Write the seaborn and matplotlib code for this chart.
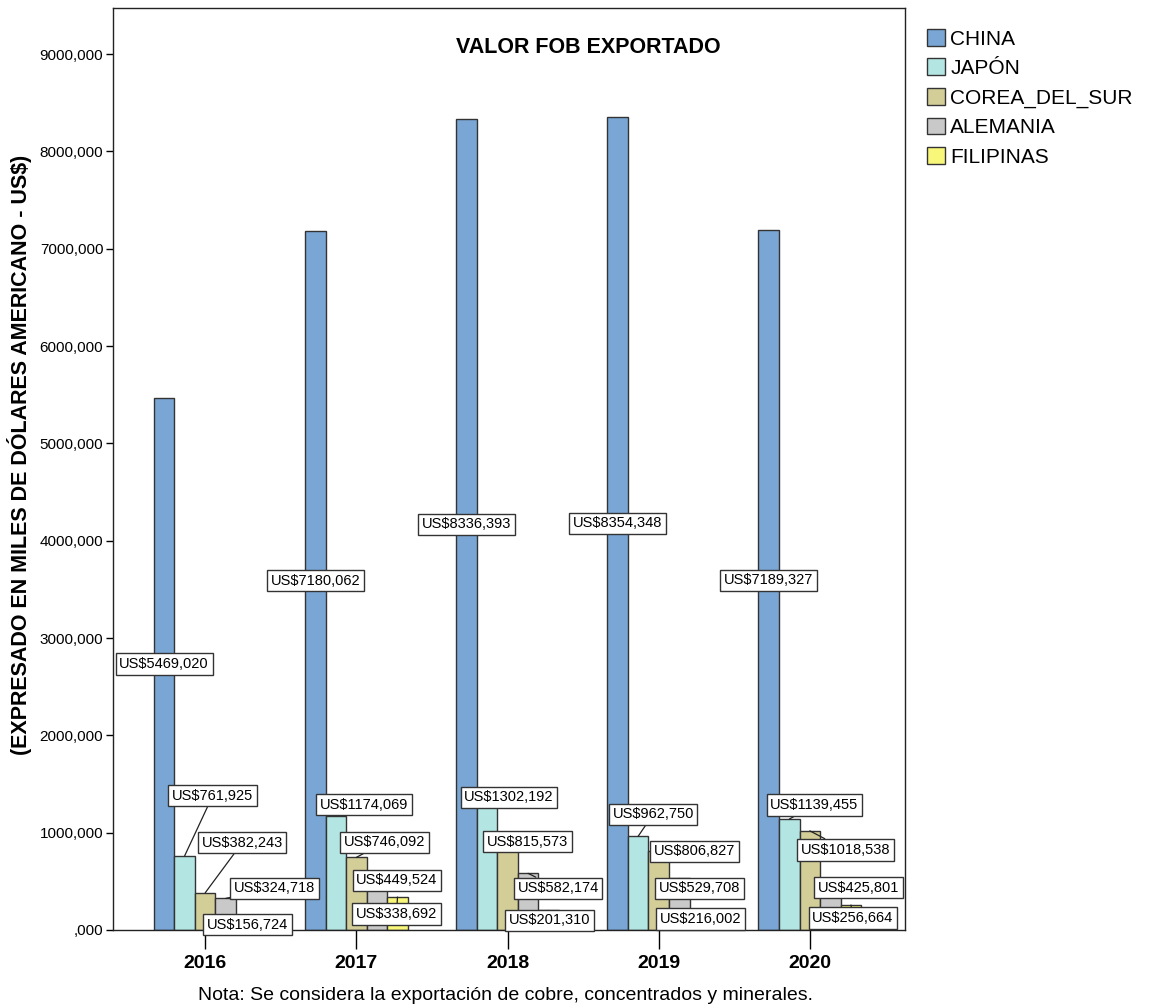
import pandas as pd
import matplotlib.pyplot as plt
import seaborn as sns
from matplotlib.patches import Patch

# data (miles de US$)
years = ['2016', '2017', '2018', '2019', '2020']
countries = ['CHINA', 'JAPÓN', 'COREA_DEL_SUR', 'ALEMANIA', 'FILIPINAS']
china = [5469.020, 7180.062, 8336.393, 8354.348, 7189.327]
japon = [761.925, 1174.069, 1302.192, 962.750, 1139.455]
corea = [382.243, 746.092, 815.573, 806.827, 1018.538]
alemania = [324.718, 449.524, 582.174, 529.708, 425.801]
filipinas = [156.724, 338.692, 201.310, 216.002, 256.664]

colors = ['#7AA6D6', '#B3E5E3', '#D3CD98', '#C9C9C9', '#F8F77A']

# label offsets in pixels from the bar top (dx, dy), one row per country (CHINA is centred)
label_offsets = [
    [(0, 0), (0, 0), (0, 0), (0, 0), (0, 0)],
    [(28, 60), (28, 11), (22, 6), (15, 22), (25, 14)],
    [(37, 50), (28, 15), (20, 9), (36, 0), (36, -19)],
    [(49, 10), (20, 6), (30, -15), (20, -10), (28, 1)],
    [(1, -10), (-1, -17), (1, -10), (1, -10), (2, -13)],
]

series = [china, japon, corea, alemania, filipinas]
df = pd.DataFrame({
    'year': years * len(countries),
    'pais': [c for c in countries for _ in years],
    'valor': [v for s in series for v in s],
})

sns.set_style('white')
plt.rcParams['font.family'] = ['Liberation Sans', 'DejaVu Sans']
plt.rcParams['text.color'] = 'black'
plt.rcParams['xtick.color'] = 'black'
plt.rcParams['ytick.color'] = 'black'

fig, ax = plt.subplots(figsize=(11.53, 10.08), dpi=100)
fig.subplots_adjust(left=0.098, right=0.785, top=0.992, bottom=0.0774)

sns.barplot(data=df, x='year', y='valor', hue='pais', hue_order=countries,
            palette=colors, width=0.68, edgecolor='#333333', linewidth=1,
            errorbar=None, legend=False, saturation=1, ax=ax, zorder=2)

ax.set_xlim(-0.61, 4.63)
ax.set_ylim(0, 9473)
ax.set_yticks(range(0, 9001, 1000))
ax.set_yticklabels([f'{v:.3f}'.replace('.', ',') if v else ',000'
                    for v in range(0, 9001, 1000)], fontsize=11)
ax.set_xticks(range(len(years)))
ax.set_xticklabels(years, fontsize=14, fontweight='bold')
ax.tick_params(axis='y', direction='out', length=5, width=1, left=True, pad=2)
ax.tick_params(axis='x', direction='out', length=14, width=1, bottom=True, pad=4)
ax.set_xlabel('')
ax.set_ylabel('')
for sp in ax.spines.values():
    sp.set_color('#222222')
    sp.set_linewidth(1)

# value labels
for ci, cont in enumerate(ax.containers):
    for yi, bar in enumerate(cont):
        val = series[ci][yi]
        xc = bar.get_x() + bar.get_width() / 2
        txt = f'US${val:.3f}'.replace('.', ',')
        box = dict(boxstyle='square,pad=0.25', fc='white', ec='#333333', lw=1)
        if ci == 0:
            ax.text(xc, val / 2, txt, ha='center', va='center', fontsize=10.5,
                    bbox=box, zorder=5)
        else:
            dx, dy = label_offsets[ci][yi]
            ax.annotate(txt, xy=(xc, val), xytext=(dx, dy), textcoords='offset pixels',
                        ha='center', va='center', fontsize=10.5, bbox=box, zorder=5,
                        arrowprops=dict(arrowstyle='-', color='#222222', lw=0.9,
                                        shrinkA=0, shrinkB=0))

ax.text(0.6, 0.957, 'VALOR FOB EXPORTADO', transform=ax.transAxes,
        ha='center', va='center', fontsize=15.5, fontweight='bold')

fig.text(20 / 1153, 1 - 455 / 1008, '(EXPRESADO EN MILES DE DÓLARES AMERICANO - US$)',
         rotation=90, ha='center', va='center', fontsize=15.5, fontweight='bold')
fig.text(505 / 1153, 1 - 995 / 1008,
         'Nota: Se considera la exportación de cobre, concentrados y minerales.',
         ha='center', va='center', fontsize=14)

handles = [Patch(facecolor=c, edgecolor='#333333', lw=1) for c in colors]
fig.legend(handles, countries, loc='upper left', bbox_to_anchor=(927 / 1153, 1 - 29 / 1008),
           frameon=False, fontsize=15, handlelength=0.87, handleheight=0.87,
           handletextpad=0.25, labelspacing=0.47, borderaxespad=0, borderpad=0)

fig.savefig('out.png', dpi=100)
